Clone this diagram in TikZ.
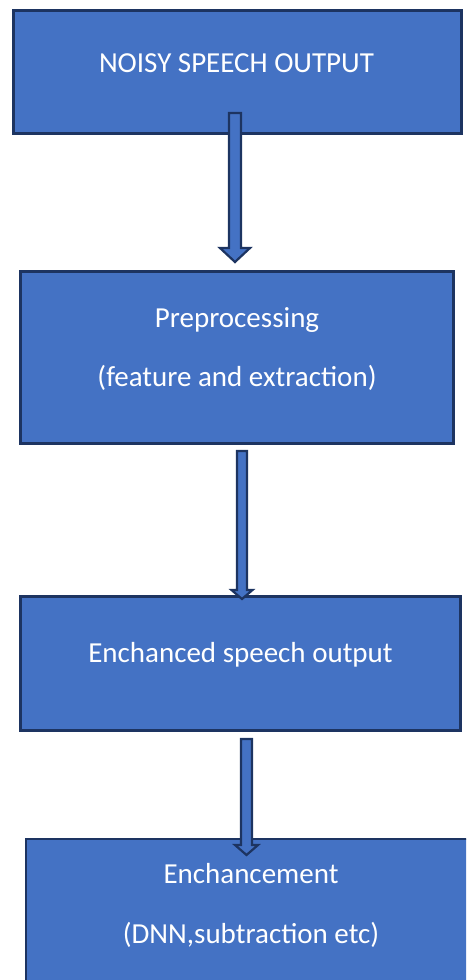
\documentclass[tikz,border=0pt]{standalone}
\usepackage{fontspec}
\setmainfont{Carlito}
\usetikzlibrary{calc}
\definecolor{boxfill}{HTML}{4472C4}
\definecolor{boxline}{HTML}{1D3461}
\newcommand\blockarr[5]{%
  \draw[arrowshape] ($(#1)+(-#3,0)$) -- ($(#2)+(-#3,-#5)$) -- ($(#2)+(-#4,-#5)$) -- (#2)
    -- ($(#2)+(#4,-#5)$) -- ($(#2)+(#3,-#5)$) -- ($(#1)+(#3,0)$) -- cycle;}
\begin{document}
\begin{tikzpicture}[x=1pt,y=-1pt,
  box/.style={draw=boxline,fill=boxfill,line width=2.8pt,rectangle,inner sep=0pt},
  arrowshape/.style={draw=boxline,fill=boxfill,line width=2.2pt,line join=miter},
  lbl/.style={text=white,anchor=base,inner sep=0pt,font=\fontsize{29}{34}\selectfont}]
\useasboundingbox (0,0) rectangle (466,980);
\begin{scope}
\clip (0,0) rectangle (466,980);
\node[box,minimum width=448pt,minimum height=123pt] (b1) at (237.5,72) {};
\node[box,minimum width=433pt,minimum height=172pt] (b2) at (237,357.5) {};
\node[box,minimum width=440pt,minimum height=134pt] (b3) at (240.5,663.5) {};
\node[box,minimum width=450pt,minimum height=160pt] (b4) at (251,919) {};

\node[lbl] (t1) at (236.5,72) {NOISY SPEECH OUTPUT};
\node[lbl] (t2a) at (237,327) {Preprocessing};
\node[lbl] (t2b) at (237,386) {(feature and extraction)};
\node[lbl] (t3) at (240.5,662) {Enchanced speech output};
\node[lbl] (t4a) at (251,883) {Enchancement};
\node[lbl] (t4b) at (251,943) {(DNN,subtraction etc)};

\coordinate (a1s) at (235,113);
\coordinate (a1e) at (235,262);
\coordinate (a2s) at (242,451);
\coordinate (a2e) at (242,599);
\coordinate (a3s) at (246.5,739);
\coordinate (a3e) at (246.5,855);
\blockarr{a1s}{a1e}{6}{15}{14}
\blockarr{a2s}{a2e}{5}{10.5}{9}
\blockarr{a3s}{a3e}{5.5}{11.5}{10}
\end{scope}
\end{tikzpicture}
\end{document}
